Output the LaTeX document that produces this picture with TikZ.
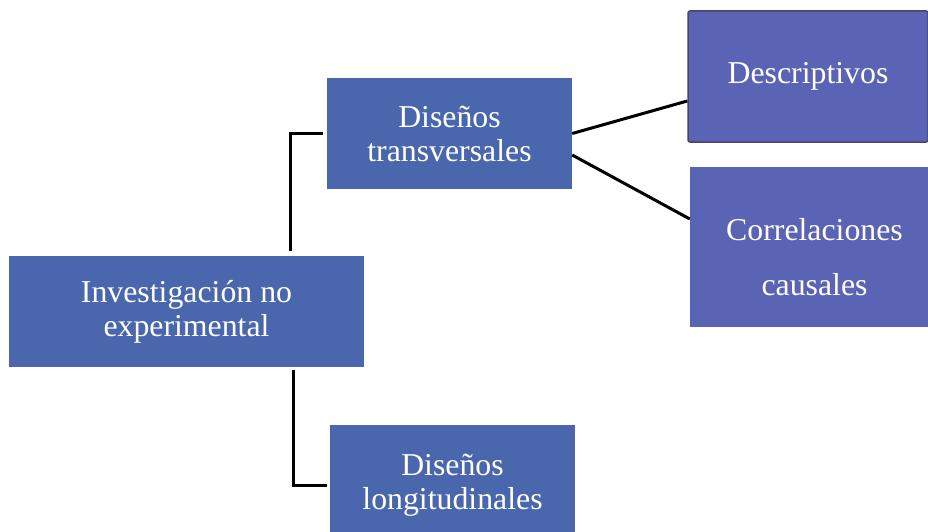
\documentclass[tikz,border=0pt]{standalone}
\usepackage{fontspec}
\setmainfont{Liberation Serif}
\definecolor{boxblue}{HTML}{4A67AD}
\definecolor{boxpurple}{HTML}{5B63B5}
\definecolor{boxedge}{HTML}{45466A}
\begin{document}
\begin{tikzpicture}[x=1pt,y=-1pt,
  box/.style={rectangle, fill=boxblue, text=white, align=center, inner sep=0pt,
    font=\fontsize{31.8pt}{34pt}\selectfont},
  pbox/.style={box, fill=boxpurple},
  conn/.style={draw=black, line width=3pt}]
\clip (0,0) rectangle (928,532);
\fill[white] (0,0) rectangle (928,532);
\node[box, minimum width=355pt, minimum height=111pt] (inv) at (186.5,311.5) {Investigación no\\experimental};
\node[box, minimum width=245pt, minimum height=111pt] (tra) at (449.5,133.5) {Diseños\\transversales};
\node[box, minimum width=245pt, minimum height=120pt] (lon) at (452.5,485) {Diseños\\longitudinales};
\node[pbox, draw=boxedge, line width=1.5pt, rounded corners=2pt, minimum width=240pt, minimum height=131pt] (desc) at (808,76.5) {Descriptivos};
\node[pbox, minimum width=249pt, minimum height=160pt] (cor) at (814.5,247) {};
\node[text=white, align=center, inner sep=0pt, font=\fontsize{31.8pt}{55pt}\selectfont] (corlabel) at (814.5,257) {Correlaciones\\causales};
\draw[conn, shorten <=5pt, shorten >=4pt] ([xshift=103.5pt]inv.north) |- (tra.west);
\draw[conn, shorten <=3pt, shorten >=3pt] ([xshift=106.5pt]inv.south) |- (lon.west);
\draw[conn] (tra.east) -- ([yshift=-24.5pt]desc.west);
\draw[conn] ([yshift=-21.5pt]tra.east) -- ([yshift=28pt]cor.west);
\end{tikzpicture}
\end{document}
